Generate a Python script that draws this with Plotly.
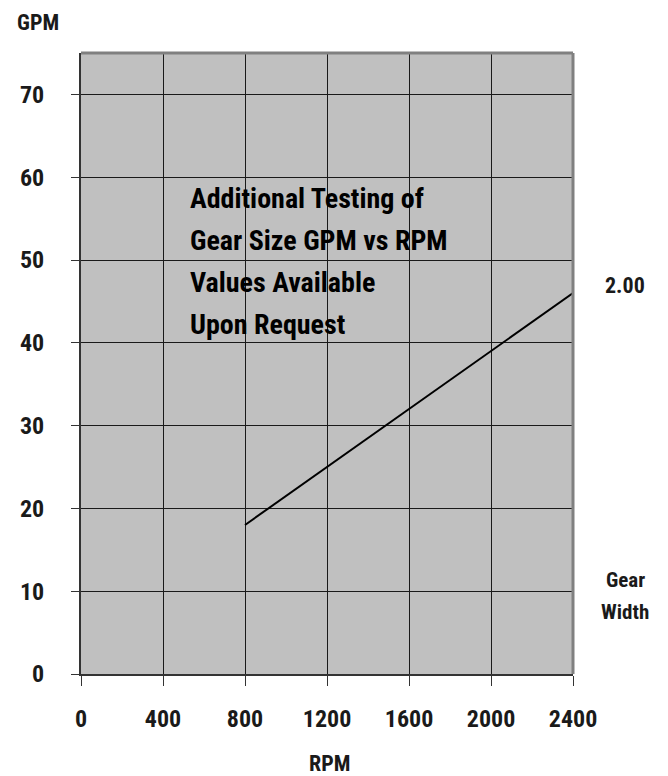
import plotly.graph_objects as go

rpm = [800, 2400]
gpm = [18, 46]
x_ticks = [0, 400, 800, 1200, 1600, 2000, 2400]
y_ticks = [0, 10, 20, 30, 40, 50, 60, 70]
series_label = "2.00"
note_lines = ["Additional Testing of", "Gear Size GPM vs RPM", "Values Available", "Upon Request"]

FONT = "Liberation Sans Narrow, Roboto Condensed, Roboto, sans-serif"
INK = "#1a1a1a"

def f(size, color=INK):
    return dict(family=FONT, size=size, color=color, weight=700)

fig = go.Figure()
fig.add_trace(go.Scatter(x=rpm, y=gpm, mode="lines",
                         line=dict(color="black", width=2), showlegend=False,
                         hoverinfo="skip"))

# page body has an 8px margin: figure is 660x768, placed at (8, 8)
fig.update_layout(
    width=660, height=768,
    margin=dict(l=68, r=95, t=45, b=102),
    paper_bgcolor="white", plot_bgcolor="#c0c0c0",
    font=f(20),
    showlegend=False,
)
fig.update_xaxes(range=[0, 2400], tickvals=x_ticks, ticktext=[f"<b>{v}</b>" for v in x_ticks],
                 showgrid=True, gridcolor=INK, gridwidth=1,
                 showline=True, linecolor="#333333", linewidth=2,
                 ticks="outside", ticklen=10, tickcolor="#333333", tickwidth=1,
                 ticklabelstandoff=12, tickfont=f(24), zeroline=False)
fig.update_yaxes(range=[0, 75], tickvals=y_ticks, ticktext=[f"<b>{v}</b>" for v in y_ticks],
                 showgrid=True, gridcolor=INK, gridwidth=1,
                 showline=True, linecolor="#333333", linewidth=2,
                 ticks="outside", ticklen=8, tickcolor="#333333", tickwidth=1,
                 ticklabelstandoff=22, tickfont=f(24), zeroline=False)

# gray top and right border
fig.add_shape(type="line", xref="paper", yref="paper", x0=0, x1=1, y0=1, y1=1,
              line=dict(color="#808080", width=3))
fig.add_shape(type="line", xref="paper", yref="paper", x0=1, x1=1, y0=0, y1=1,
              line=dict(color="#808080", width=3))

ann = []
ann.append(dict(text="<b>GPM</b>", xref="paper", yref="paper", x=0, xshift=-43, y=1.0,
                yshift=31, xanchor="center", yanchor="middle", showarrow=False, font=f(22)))
ann.append(dict(text="<b>RPM</b>", xref="paper", yref="paper", x=0.506, y=0,
                yshift=-89, xanchor="center", yanchor="middle", showarrow=False, font=f(22)))
ann.append(dict(text=f"<b>{series_label}</b>", xref="paper", y=gpm[-1], yref="y",
                x=1, xshift=52, yshift=8, xanchor="center", yanchor="middle", showarrow=False,
                font=f(22)))
ann.append(dict(text="<b>Gear</b>", xref="paper", yref="paper", x=1, xshift=52,
                y=0, yshift=94, xanchor="center", yanchor="middle", showarrow=False, font=f(21)))
ann.append(dict(text="<b>Width</b>", xref="paper", yref="paper", x=1, xshift=52,
                y=0, yshift=62, xanchor="center", yanchor="middle", showarrow=False, font=f(21)))
y0 = 198
for i, line in enumerate(note_lines):
    ann.append(dict(text=f"<b>{line}</b>", xref="paper", yref="paper", x=0, xshift=107,
                    y=1, yshift=-(y0 + 42 * i - 53), xanchor="left", yanchor="middle",
                    showarrow=False, font=f(28, "black")))
fig.update_layout(annotations=ann)

fig.write_html("out.html")
